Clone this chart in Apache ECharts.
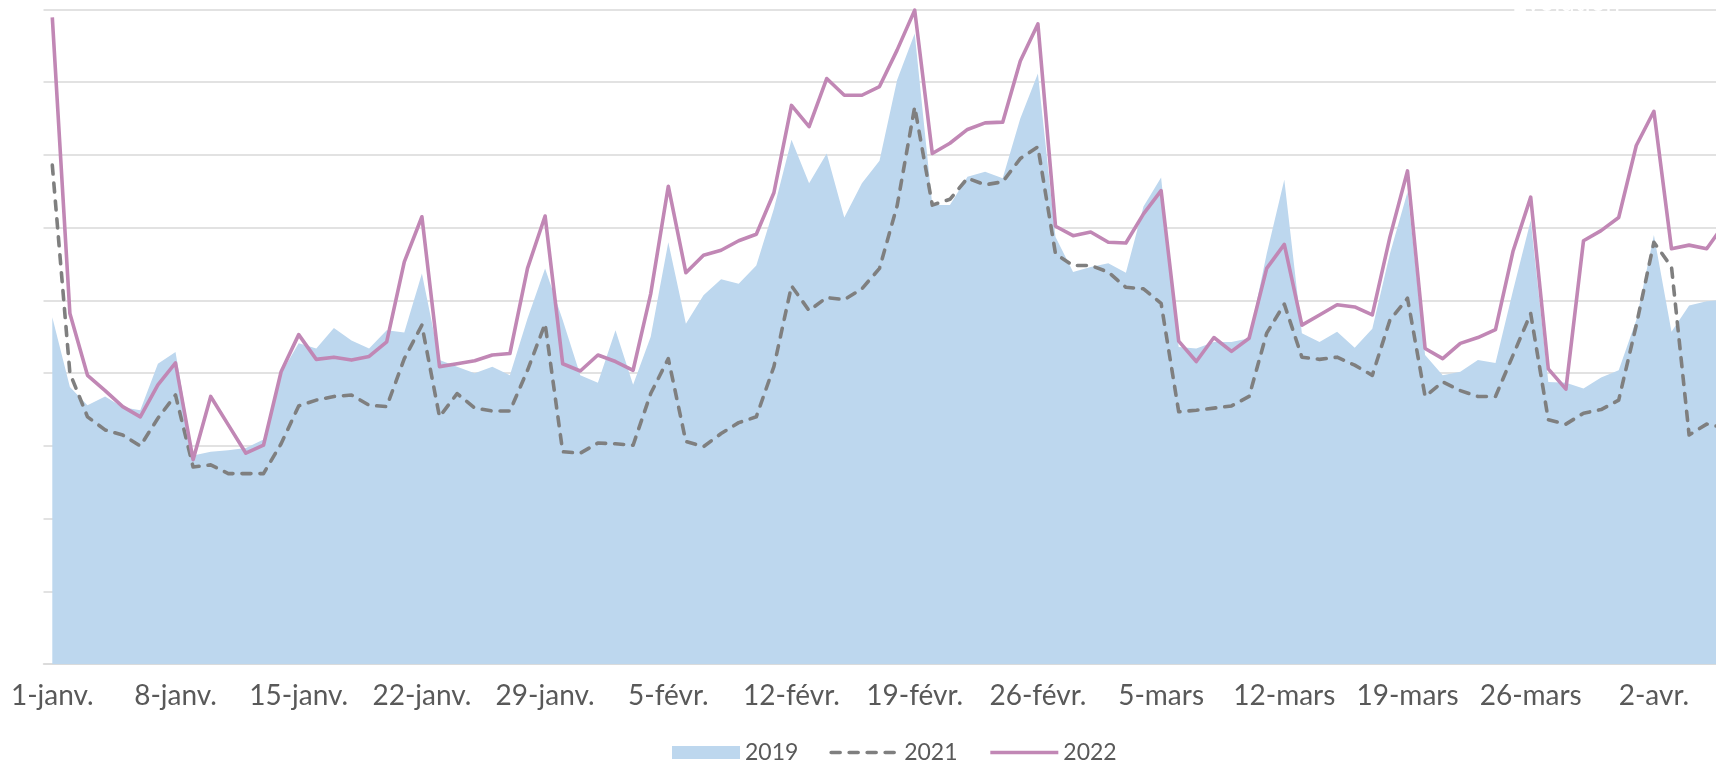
<!DOCTYPE html>
<html>
<head>
<meta charset="utf-8">
<title>2019 / 2021 / 2022</title>
<script src="https://cdn.jsdelivr.net/npm/echarts@6/dist/echarts.min.js"></script>
<style>
  html, body { margin: 0; padding: 0; background: #fff; overflow: hidden; }
  /* plus large que la fenêtre : la courbe est coupée à droite comme dans l'original */
  #chart { width: 1740px; height: 764px; }
</style>
</head>
<body>
<div id="chart"></div>
<script>
  // jours affichés : mois, nombre de jours
  const months = [['janv.', 31], ['févr.', 28], ['mars', 31], ['avr.', 6]]
  const days = []
  months.forEach(([m, n]) => {
    for (let d = 1; d <= n; d++) days.push(d + '-' + m)
  })

  const serie2019 = [
    477, 381, 356, 368, 353, 349, 413, 429, 287, 292, 294, 297, 309, 400, 441, 434,
    462, 445, 434, 459, 456, 537, 418, 409, 400, 409, 397, 475, 544, 473, 397, 387,
    459, 384, 450, 580, 468, 507, 529, 523, 548, 626, 721, 661, 702, 614, 661, 692,
    803, 867, 631, 631, 670, 677, 668, 750, 812, 587, 539, 546, 551, 538, 629, 669,
    436, 434, 443, 443, 448, 564, 666, 455, 443, 457, 435, 461, 564, 649, 425, 397,
    402, 418, 414, 514, 610, 388, 387, 379, 394, 404, 473, 590, 457, 493, 499, 501
  ]
  const serie2021 = [
    686, 400, 340, 322, 315, 300, 338, 370, 271, 274, 262, 262, 262, 303, 355, 363,
    368, 370, 356, 354, 420, 466, 340, 372, 352, 348, 348, 404, 468, 292, 290, 304,
    303, 301, 372, 420, 306, 299, 317, 332, 340, 409, 520, 486, 504, 501, 516, 544,
    630, 766, 631, 639, 668, 659, 663, 695, 711, 564, 548, 548, 539, 518, 516, 496,
    347, 349, 352, 355, 368, 455, 495, 422, 419, 422, 411, 397, 473, 503, 368, 388,
    376, 368, 368, 425, 482, 336, 330, 345, 350, 363, 466, 580, 546, 315, 330, 325
  ]
  const serie2022 = [
    889, 482, 397, 376, 354, 340, 384, 414, 281, 368, 329, 290, 301, 402, 453, 419,
    422, 418, 423, 443, 553, 615, 409, 413, 417, 425, 427, 544, 616, 413, 403, 425,
    416, 404, 509, 657, 538, 562, 569, 582, 591, 648, 768, 739, 805, 782, 782, 794,
    844, 899, 702, 716, 735, 744, 745, 829, 880, 602, 589, 594, 580, 579, 619, 651,
    444, 416, 449, 430, 448, 544, 577, 466, 480, 494, 491, 480, 587, 678, 434, 420,
    441, 449, 460, 568, 642, 406, 378, 582, 596, 614, 713, 760, 571, 576, 571, 605
  ]

  const gridColor = '#d9d9d9'
  const textColor = '#595959'
  const font = 'Lato'

  const dom = document.getElementById('chart')
  const chart = echarts.init(dom)

  // pas de symbole dans la légende des courbes
  const noSymbol = { color: 'rgba(0,0,0,0)', borderWidth: 0, opacity: 0 }

  const option = {
    animation: false,
    backgroundColor: '#fff',
    grid: { left: 43.5, top: 9.4, width: 1689.6, height: 654.8 },
    legend: {
      left: 672,
      top: 741,
      padding: 0,
      itemWidth: 68,
      itemHeight: 13,
      itemGap: 31,
      selectedMode: false,
      lineStyle: { width: 3.6 },
      textStyle: { fontFamily: font, fontSize: 23, color: textColor },
      data: [
        { name: '2019', icon: 'rect' },
        { name: '2021', itemStyle: noSymbol },
        { name: '2022', itemStyle: noSymbol }
      ]
    },
    graphic: [
      {
        type: 'text',
        left: 1512,
        top: -10,
        z: 100,
        style: { text: 'Évolution', fill: '#ffffff', font: '26px Lato' }
      }
    ],
    xAxis: {
      type: 'category',
      data: days,
      boundaryGap: true,
      axisLine: { lineStyle: { color: gridColor, width: 1.5 } },
      axisTick: { interval: 6, length: 7, lineStyle: { color: gridColor, width: 1.5 } },
      axisLabel: { interval: 6, margin: 18, color: textColor, fontFamily: font, fontSize: 28 },
      splitLine: { show: false }
    },
    yAxis: {
      type: 'value',
      min: 0,
      max: 900,
      interval: 100,
      axisLabel: { show: false },
      axisLine: { show: false },
      axisTick: { show: false },
      splitLine: { lineStyle: { color: gridColor, width: 1.5 } }
    },
    series: [
      {
        name: '2019',
        type: 'line',
        color: '#bdd7ee',
        symbol: 'none',
        lineStyle: { width: 0 },
        areaStyle: { color: '#bdd7ee', opacity: 1 },
        data: serie2019
      },
      {
        name: '2021',
        type: 'line',
        color: '#7f7f7f',
        symbol: 'none',
        lineStyle: { width: 3.6, type: [9, 9], cap: 'round', join: 'round' },
        data: serie2021
      },
      {
        name: '2022',
        type: 'line',
        color: '#c187b5',
        symbol: 'none',
        lineStyle: { width: 3.6, join: 'round' },
        data: serie2022
      }
    ]
  }

  chart.setOption(option)
</script>
</body>
</html>
